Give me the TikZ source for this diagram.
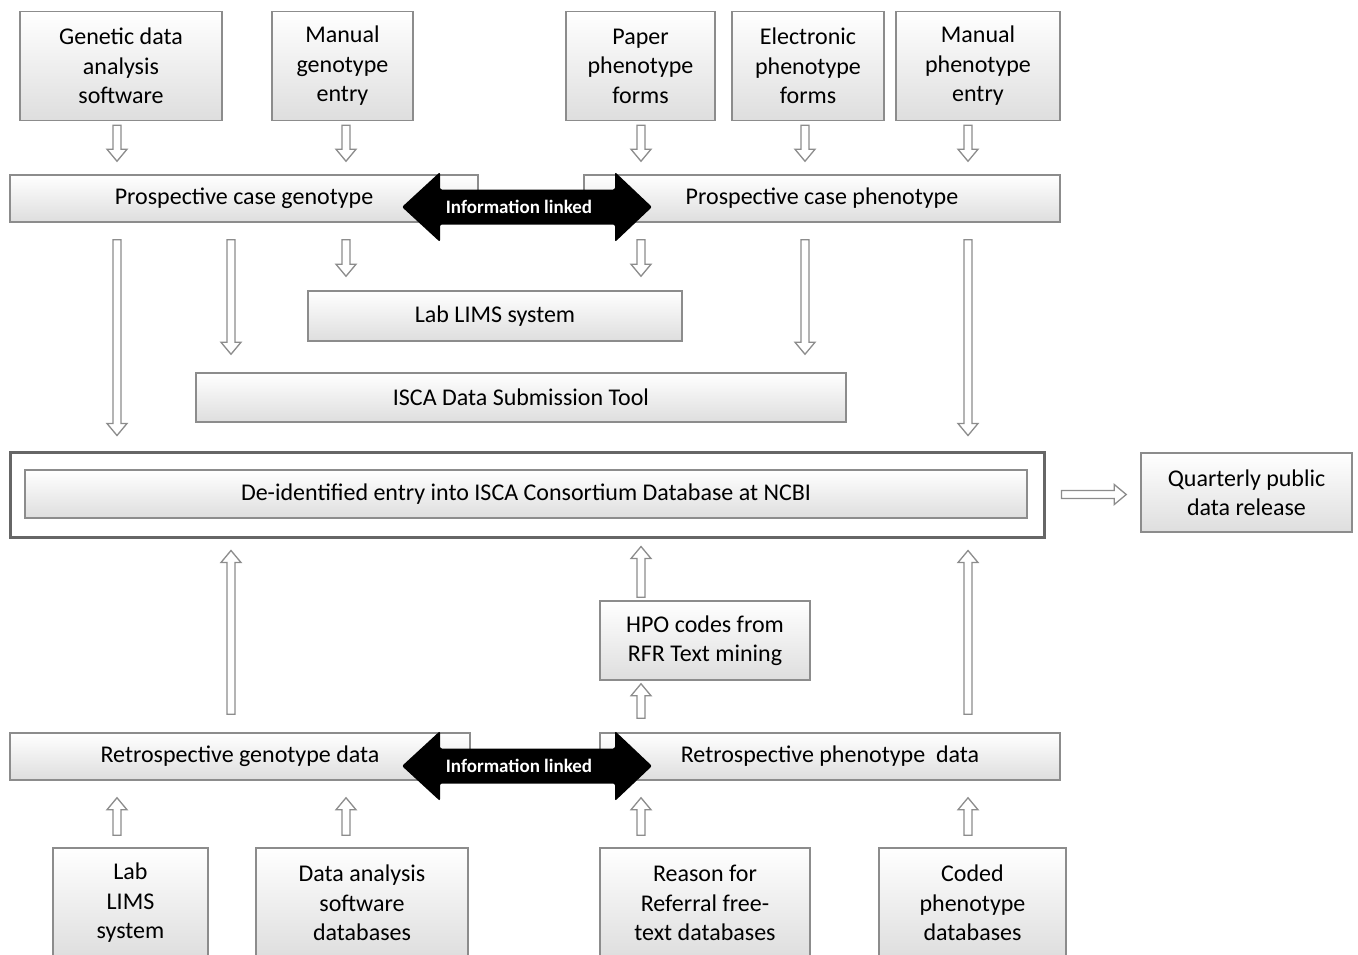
\documentclass[tikz,border=0pt]{standalone}
\usepackage{fontspec}
\setmainfont{Carlito}
\usetikzlibrary{calc}
\definecolor{boxgray}{RGB}{140,140,140}
\tikzset{
  box/.style={draw=boxgray, line width=1.5pt, top color=white, bottom color=black!13,
    align=center, inner sep=0pt, text=black, font=\fontsize{24}{29.5}\selectfont},
  % hollow block arrow, #1 = gap at start, #2 = gap at end
  hollow/.style 2 args={draw=boxgray, line width=1.3pt, fill=white, to path={
    let \p1=($(\tikztostart)!#1!(\tikztotarget)$), \p2=($(\tikztotarget)!#2!(\tikztostart)$),
        \p3=($(\p2)!12pt!(\p1)$) in
    ($(\p1)!4pt!90:(\p2)$) -- ($(\p3)!4pt!90:(\p2)$) -- ($(\p3)!10pt!90:(\p2)$) -- (\p2)
    -- ($(\p3)!10pt!-90:(\p2)$) -- ($(\p3)!4pt!-90:(\p2)$) -- ($(\p1)!4pt!-90:(\p2)$) -- cycle}},
  linkarrow/.style={fill=black, rounded corners=2pt},
  linktext/.style={text=white, font=\fontsize{19}{19}\bfseries\selectfont}
}
\begin{document}
\begin{tikzpicture}[x=1pt, y=-1pt]
  \useasboundingbox (0,0) rectangle (1358,954);

  % Sources of prospective data
  \node[box, minimum width=202pt, minimum height=109pt] (gensw) at (121,66) {Genetic data\\analysis\\software};
  \node[box, minimum width=141pt, minimum height=109pt] (mangeno) at (342.5,66) {Manual\\genotype\\entry};
  \node[box, minimum width=149pt, minimum height=109pt] (paperph) at (640.5,66) {Paper\\phenotype\\forms};
  \node[box, minimum width=152pt, minimum height=109pt] (elecph) at (808,66) {Electronic\\phenotype\\forms};
  \node[box, minimum width=164pt, minimum height=109pt] (manph) at (978,66) {Manual\\phenotype\\entry};

  % Prospective case
  \node[box, minimum width=468pt, minimum height=47pt] (pgeno) at (244,198.5) {Prospective case genotype};
  \node[box, minimum width=476pt, minimum height=47pt] (ppheno) at (822,198.5) {Prospective case phenotype};
  \coordinate (linkP) at (527,207);
  \fill[linkarrow] (linkP) ++(-125,0) -- ++(38,-35) -- ++(0,17.5) -- ++(175,0) -- ++(0,-17.5)
    -- ++(37,35) -- ++(-37,35) -- ++(0,-17.5) -- ++(-175,0) -- ++(0,17.5) -- cycle;
  \node[linktext] (linkPtxt) at ([xshift=-8pt]linkP) {Information linked};

  % Submission
  \node[box, minimum width=374pt, minimum height=50pt] (lims) at (495,316) {Lab LIMS system};
  \node[box, minimum width=650pt, minimum height=49pt] (isca) at (521,397.5) {ISCA Data Submission Tool};

  % Database
  \node[draw=black!60, line width=3pt, fill=white, minimum width=1034pt, minimum height=85pt, inner sep=0pt] (outer) at (527,494.5) {};
  \node[box, minimum width=1002pt, minimum height=48pt] (ncbi) at (526,494) {De-identified entry into ISCA Consortium Database at NCBI};
  \node[box, minimum width=211pt, minimum height=79pt] (release) at (1246.5,492.5) {Quarterly public\\data release};

  % Retrospective
  \node[box, minimum width=210pt, minimum height=79pt] (hpo) at (705,640.5) {HPO codes from\\RFR Text mining};
  \node[box, minimum width=460pt, minimum height=47pt] (rgeno) at (240,756.5) {Retrospective genotype data};
  \node[box, minimum width=460pt, minimum height=47pt] (rpheno) at (830,756.5) {Retrospective phenotype\ \ data};
  \coordinate (linkR) at (527,766);
  \fill[linkarrow] (linkR) ++(-125,0) -- ++(38,-35) -- ++(0,17.5) -- ++(175,0) -- ++(0,-17.5)
    -- ++(37,35) -- ++(-37,35) -- ++(0,-17.5) -- ++(-175,0) -- ++(0,17.5) -- cycle;
  \node[linktext] (linkRtxt) at ([xshift=-8pt]linkR) {Information linked};

  % Sources of retrospective data
  \node[box, minimum width=155pt, minimum height=110pt] (blims) at (130.5,903) {Lab\\LIMS\\system};
  \node[box, minimum width=212pt, minimum height=110pt] (bdata) at (362,903) {Data analysis\\software\\databases};
  \node[box, minimum width=210pt, minimum height=110pt] (bref) at (705,903) {Reason for\\Referral free-\\text databases};
  \node[box, minimum width=187pt, minimum height=110pt] (bcoded) at (972.5,903) {Coded\\phenotype\\databases};

  % Arrows
  \draw[hollow={4pt}{13pt}] (gensw.south -| 117,0) to (pgeno.north -| 117,0);
  \draw[hollow={4pt}{13pt}] (mangeno.south -| 346,0) to (pgeno.north -| 346,0);
  \draw[hollow={4pt}{13pt}] (paperph.south -| 641,0) to (ppheno.north -| 641,0);
  \draw[hollow={4pt}{13pt}] (elecph.south -| 805,0) to (ppheno.north -| 805,0);
  \draw[hollow={4pt}{13pt}] (manph.south -| 968,0) to (ppheno.north -| 968,0);

  \draw[hollow={17pt}{15pt}] (pgeno.south -| 117,0) to (outer.north -| 117,0);
  \draw[hollow={17pt}{18pt}] (pgeno.south -| 231,0) to (isca.north -| 231,0);
  \draw[hollow={17pt}{14pt}] (pgeno.south -| 346,0) to (lims.north -| 346,0);
  \draw[hollow={17pt}{14pt}] (ppheno.south -| 641,0) to (lims.north -| 641,0);
  \draw[hollow={17pt}{18pt}] (ppheno.south -| 805,0) to (isca.north -| 805,0);
  \draw[hollow={17pt}{15pt}] (ppheno.south -| 968,0) to (outer.north -| 968,0);

  \draw[hollow={16pt}{14pt}] (outer.east) to (outer.east -| release.west);

  \draw[hollow={18pt}{12pt}] (rgeno.north -| 231,0) to (outer.south -| 231,0);
  \draw[hollow={3pt}{8pt}] (hpo.north -| 641,0) to (outer.south -| 641,0);
  \draw[hollow={14pt}{3pt}] (rpheno.north -| 641,0) to (hpo.south -| 641,0);
  \draw[hollow={18pt}{12pt}] (rpheno.north -| 968,0) to (outer.south -| 968,0);

  \draw[hollow={12pt}{17pt}] (blims.north -| 117,0) to (rgeno.south -| 117,0);
  \draw[hollow={12pt}{17pt}] (bdata.north -| 346,0) to (rgeno.south -| 346,0);
  \draw[hollow={12pt}{17pt}] (bref.north -| 641,0) to (rpheno.south -| 641,0);
  \draw[hollow={12pt}{17pt}] (bcoded.north -| 968,0) to (rpheno.south -| 968,0);
\end{tikzpicture}
\end{document}
